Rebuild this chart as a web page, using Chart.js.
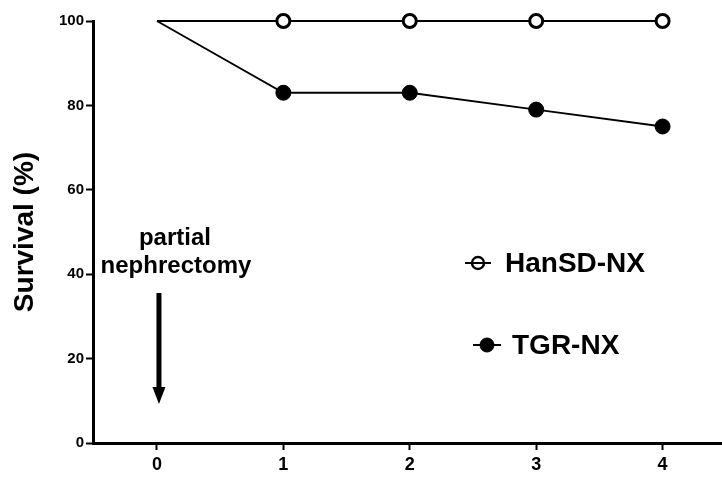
<!DOCTYPE html>
<html><head><meta charset="utf-8">
<script src="https://cdn.jsdelivr.net/npm/chart.js@4"></script>
<style>html,body{margin:0;padding:0;background:#fff}</style>
</head><body>
<canvas id="c" width="722" height="477"></canvas>
<script>
const weeks = [0, 1, 2, 3, 4];
const hansdNX = [100, 100, 100, 100, 100];
const tgrNX = [100, 83, 83, 79, 75];
const xTicks = [0, 1, 2, 3, 4];
const yTicks = [0, 20, 40, 60, 80, 100];
const seriesNames = ['HanSD-NX', 'TGR-NX'];
const annotationLines = ['partial', 'nephrectomy'];
const annotationAt = 0;
const yTitle = 'Survival (%)';

const FONT = '"Liberation Sans", Arial, sans-serif';

const toPts = arr => weeks.map((w, i) => ({ x: w, y: arr[i] }));

const overlay = {
  id: 'overlay',
  afterDraw(chart) {
    const ctx = chart.ctx;
    const xs = chart.scales.x;
    const ax = xs.getPixelForValue(annotationAt);
    ctx.save();
    ctx.fillStyle = '#000';
    ctx.strokeStyle = '#000';
    // annotation text
    ctx.font = 'bold 24px ' + FONT;
    ctx.textAlign = 'center';
    ctx.textBaseline = 'alphabetic';
    ctx.fillText(annotationLines[0], ax + 18, 245);
    ctx.fillText(annotationLines[1], ax + 19, 273);
    // arrow
    const sx = ax + 2;
    ctx.fillRect(sx - 2.5, 293, 5, 96);
    ctx.beginPath();
    ctx.moveTo(sx - 6.5, 387);
    ctx.lineTo(sx + 6.5, 387);
    ctx.lineTo(sx, 404);
    ctx.closePath();
    ctx.fill();
    // legend
    const ds = chart.data.datasets;
    const items = [
      { y: 263, x0: 465, x1: 491, cx: 478, tx: 505 },
      { y: 345, x0: 473, x1: 501, cx: 487, tx: 512 }
    ];
    ctx.font = 'bold 28px ' + FONT;
    ctx.textAlign = 'left';
    ctx.textBaseline = 'middle';
    items.forEach((it, i) => {
      const d = ds[i];
      ctx.lineWidth = 2;
      ctx.beginPath();
      ctx.moveTo(it.x0, it.y);
      ctx.lineTo(it.x1, it.y);
      ctx.stroke();
      const r = i === 0 ? 6 : 7;
      ctx.beginPath();
      ctx.arc(it.cx, it.y, r, 0, Math.PI * 2);
      ctx.fillStyle = d.pointBackgroundColor;
      ctx.fill();
      ctx.lineWidth = i === 0 ? 2.4 : 1;
      ctx.stroke();
      if (i === 0) {
        ctx.lineWidth = 2;
        ctx.beginPath();
        ctx.moveTo(it.x0, it.y);
        ctx.lineTo(it.x1, it.y);
        ctx.stroke();
      }
      ctx.fillStyle = '#000';
      ctx.fillText(seriesNames[i], it.tx, it.y + 1);
    });
    ctx.restore();
  }
};

new Chart(document.getElementById('c'), {
  type: 'line',
  data: {
    datasets: [
      {
        label: seriesNames[0],
        data: toPts(hansdNX),
        borderColor: '#000',
        borderWidth: 1.8,
        pointRadius: [0, 6.5, 6.5, 6.5, 6.5],
        pointBorderWidth: 3,
        pointBorderColor: '#000',
        pointBackgroundColor: '#fff',
        clip: false,
        order: 1
      },
      {
        label: seriesNames[1],
        data: toPts(tgrNX),
        borderColor: '#000',
        borderWidth: 1.8,
        pointRadius: [0, 7.5, 7.5, 7.5, 7.5],
        pointBorderWidth: 1,
        pointBorderColor: '#000',
        pointBackgroundColor: '#000',
        clip: false,
        order: 2
      }
    ]
  },
  options: {
    responsive: false,
    animation: false,
    devicePixelRatio: 1,
    layout: { autoPadding: false, padding: { top: 21, right: 0, left: 0, bottom: 0 } },
    plugins: { legend: { display: false }, tooltip: { enabled: false } },
    scales: {
      x: {
        type: 'linear',
        min: -0.506,
        max: 4.47,
        afterBuildTicks: s => { s.ticks = xTicks.map(v => ({ value: v })); },
        afterFit: s => { s.height = 34; s.paddingRight = 0; s.paddingLeft = 0; },
        ticks: { color: '#000', font: { family: FONT, size: 18, weight: 'bold' }, padding: 4, maxRotation: 0 },
        grid: { drawOnChartArea: false, tickLength: 7, tickWidth: 2, tickColor: '#000' },
        border: { display: true, width: 3, color: '#000' }
      },
      y: {
        min: 0,
        max: 100,
        afterBuildTicks: s => { s.ticks = yTicks.map(v => ({ value: v })); },
        afterFit: s => { s.width = 93; },
        ticks: { color: '#000', font: { family: FONT, size: 15, weight: 'bold' }, padding: 2 },
        grid: { drawOnChartArea: false, tickLength: 7, tickWidth: 2, tickColor: '#000' },
        border: { display: true, width: 3, color: '#000' },
        title: { display: true, text: yTitle, color: '#000', font: { family: FONT, size: 28, weight: 'bold' }, padding: { top: 8, bottom: 0 } }
      }
    }
  },
  plugins: [overlay]
});
</script>
</body></html>
